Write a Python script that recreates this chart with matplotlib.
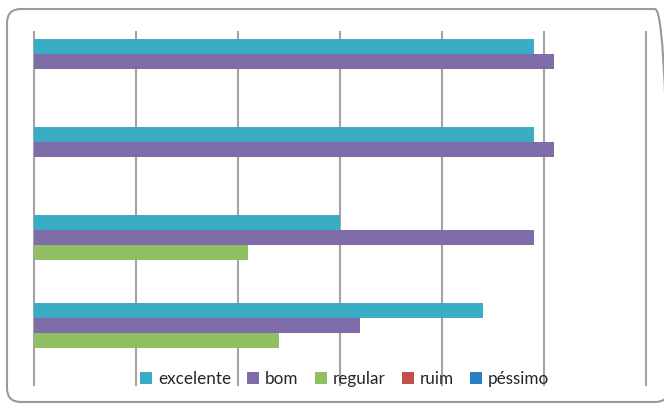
import matplotlib
matplotlib.use("Agg")
import matplotlib.pyplot as plt
import numpy as np
from matplotlib.patches import FancyBboxPatch, Patch

# Respondents per rating, one value per group (top to bottom)
grupos = ["G1", "G2", "G3", "G4"]
series = ["excelente", "bom", "regular", "ruim", "péssimo"]
excelente = [49, 49, 30, 44]
bom = [51, 51, 49, 32]
regular = [0, 0, 21, 24]
ruim = [0, 0, 0, 0]
pessimo = [0, 0, 0, 0]
valores = [excelente, bom, regular, ruim, pessimo]
cores = ["#3aadc5", "#7f6daa", "#92bf62", "#c0504d", "#2e7fbf"]
x_ticks = [0, 10, 20, 30, 40, 50, 60]

W, H = 664, 404
fig = plt.figure(figsize=(W / 100, H / 100), dpi=100)
fig.patch.set_facecolor("white")

# rounded outer frame, laid out in inches so the corners stay circular
frame = FancyBboxPatch((0.07, (H - 402) / 100), (669 - 7) / 100, (402 - 9) / 100,
                       boxstyle="round,pad=0,rounding_size=0.14",
                       transform=fig.dpi_scale_trans, facecolor="none",
                       edgecolor="#9a9a9a", linewidth=1.5, zorder=0)
fig.patches.append(frame)

ax = fig.add_axes([33.5 / W, (H - 385) / H, (646 - 33.5) / W, (385 - 32) / H])
ax.set_facecolor("none")

n = len(series)
h = 0.17
offset = (1 - n * h) / 2
idx = np.arange(len(grupos))
for j, (nome, vals, cor) in enumerate(zip(series, valores, cores)):
    y = idx + offset + (j + 0.5) * h
    ax.barh(y, vals, height=h, color=cor, linewidth=0, zorder=3, label=nome)

ax.set_ylim(len(grupos), 0)
ax.set_xlim(x_ticks[0], x_ticks[-1])
ax.set_xticks(x_ticks)
ax.set_yticks([])
ax.tick_params(axis="x", length=0, labelbottom=False)
ax.xaxis.grid(True, color="#a3a3a3", linewidth=1.5, zorder=1)
for gl in ax.get_xgridlines():
    gl.set_clip_on(False)
for s in ax.spines.values():
    s.set_visible(False)
ax.set_axisbelow(True)

handles = [Patch(facecolor=c, edgecolor="none") for c in cores]
fig.legend(handles, series, loc="center", ncol=5, frameon=False,
           bbox_to_anchor=(344.5 / W, (H - 379) / H),
           prop={"family": "Lato", "size": 12.3},
           handlelength=0.7, handleheight=0.7, handletextpad=0.35,
           columnspacing=0.95, labelcolor="#262626", borderpad=0)

fig.savefig("out.png", dpi=100)
